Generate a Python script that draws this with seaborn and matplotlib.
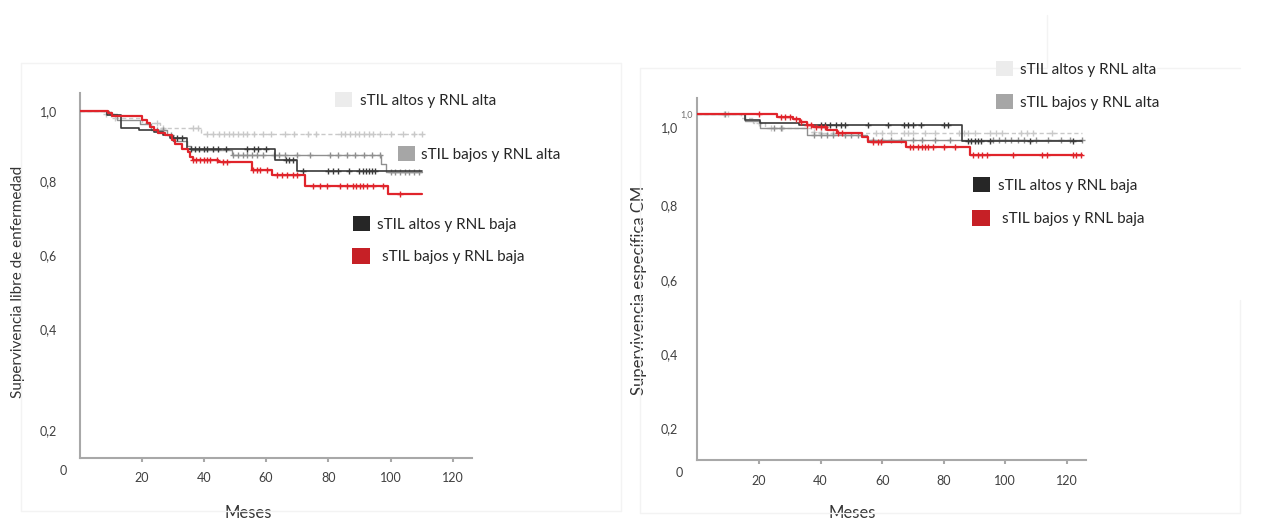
import numpy as np
import pandas as pd
import matplotlib
matplotlib.use("Agg")
import matplotlib.pyplot as plt
from matplotlib.patches import Patch
from matplotlib.lines import Line2D
from matplotlib.ticker import NullLocator
import seaborn as sns

# ------------------------------------------------------------------ data
groups = ["sTIL altos y RNL alta", "sTIL bajos y RNL alta",
          "sTIL altos y RNL baja", "sTIL bajos y RNL baja"]

# Left panel: Supervivencia libre de enfermedad (step times / survival / censored times)
dfs_la_t = [0, 8, 11, 20, 26, 39, 110]
dfs_la_s = [1.0, 0.99, 0.98, 0.965, 0.95, 0.934, 0.934]
dfs_la_c = [8.5, 10, 11.5, 25, 27, 36.5, 38, 41, 43, 45, 46.5, 48, 49.5, 51, 52.5, 54, 56,
            59, 61.5, 66, 69, 73.5, 76, 84, 85.5, 87, 88.5, 90, 91.5, 93, 94.5, 96.5,
            100, 104, 107.5, 110]

dfs_lba_t = [0, 9.5, 12, 19.5, 23, 28, 30, 34.5, 36, 49, 97, 98.5, 110]
dfs_lba_s = [1.0, 0.99, 0.975, 0.962, 0.945, 0.93, 0.915, 0.9, 0.887, 0.872, 0.848, 0.825, 0.825]
dfs_lba_c = [25, 27, 29.5, 49.5, 51, 52.5, 54, 55.5, 57, 59, 62.5, 64, 66, 70, 74, 80.5,
             83, 86, 88.5, 91.5, 94, 96.5, 100, 101.5, 103, 104.5, 106, 107.5, 109]

dfs_ab_t = [0, 9, 13.5, 19, 24, 27, 29, 34.5, 62.9, 69.8, 110]
dfs_ab_s = [1.0, 0.988, 0.952, 0.945, 0.94, 0.93, 0.922, 0.892, 0.858, 0.826, 0.826]
dfs_ab_c = [30, 31.5, 33, 36, 37, 38.5, 40, 41, 43, 44.5, 47, 54, 56, 57.5, 60, 66.5, 67.5,
            68.5, 72, 80, 81.5, 83, 86.5, 90, 91, 92, 93, 94, 95]

dfs_bb_t = [0, 9.3, 10.3, 20, 21.6, 22.7, 23.8, 25.4, 27.5, 29.7, 30.7, 33, 35, 35.5, 36.6,
            44.6, 55.4, 61.8, 72.5, 99.3, 110]
dfs_bb_s = [1.0, 0.995, 0.986, 0.973, 0.964, 0.954, 0.945, 0.938, 0.93, 0.916, 0.905, 0.892,
            0.882, 0.868, 0.858, 0.852, 0.831, 0.817, 0.783, 0.76, 0.76]
dfs_bb_c = [36.6, 37.5, 38.7, 40, 40.9, 42, 44.1, 46, 47.3, 55.9, 57, 58, 60.2, 63.4, 65,
            66.6, 68.8, 70, 75.2, 77.3, 79.5, 83.8, 85.9, 88, 89, 90.2, 91.3, 92.3, 94.5,
            97.7, 103.1]

# Right panel: Supervivencia específica CM
cm_la_t = [0, 14, 18, 22, 37, 40, 125]
cm_la_s = [1.0, 0.99, 0.975, 0.96, 0.95, 0.945, 0.945]
cm_la_c = [8.5, 10, 20, 24, 27.5, 38, 40, 44, 58, 60, 63, 67, 68.5, 70, 74, 77, 85, 86.5,
           88, 90, 95, 97, 99, 105, 107, 109, 115]

cm_lba_t = [0, 15.5, 20.3, 35.5, 55, 125]
cm_lba_s = [1.0, 0.98, 0.96, 0.94, 0.926, 0.926]
cm_lba_c = [9, 25, 27, 38, 40, 42, 44, 48, 50, 52, 57, 60, 63, 66, 70, 73, 77, 82, 96, 98,
            100, 102, 104, 106, 110, 114, 118, 121, 125]

cm_ab_t = [0, 15.5, 20.3, 33, 86, 125]
cm_ab_s = [1.0, 0.984, 0.975, 0.968, 0.924, 0.924]
cm_ab_c = [40, 41.5, 43, 45, 46.5, 48, 55.5, 62, 67, 68.5, 70, 72.5, 80, 81.5, 88, 89, 90,
           91, 92, 95, 108, 122]

cm_bb_t = [0, 25.7, 31.1, 33.3, 35.5, 37.6, 42, 45.2, 53.3, 55.5, 67.9, 88.5, 125]
cm_bb_s = [1.0, 0.993, 0.985, 0.979, 0.969, 0.962, 0.955, 0.945, 0.935, 0.921, 0.904, 0.882, 0.882]
cm_bb_c = [20, 27, 28.5, 30, 32, 33.5, 35.5, 37, 38.5, 40, 41.5, 45.5, 47, 57, 58.5, 59.5,
           69, 70, 71.5, 73, 74, 75, 76.5, 80, 83.5, 89.5, 91, 92.5, 94, 102.5, 112, 113.5,
           122, 123, 124.5]

xticks = [20, 40, 60, 80, 100, 120]
xtick_labels = ["20", "40", "60", "80", "100", "120"]
ytick_labels = ["1,0", "0,8", "0,6", "0,4", "0,2", "0"]

# ------------------------------------------------------------------ style
sns.set_theme(style="white")
plt.rcParams["font.family"] = ["Lato", "DejaVu Sans"]

W, H = 1270, 520
fig = plt.figure(figsize=(W / 100, H / 100), dpi=100)

line_col = ["#c9c9c9", "#8f8f8f", "#3a3a3a", "#e0242b"]
line_w = [1.0, 1.0, 1.2, 1.6]
line_ls = [(0, (3, 2)), "-", "-", "-"]
key_col = ["#ececec", "#a6a6a6", "#262626", "#c62026"]
spine_col = "#a8a8a8"
txt_col = "#333333"


def frame_line(x0, y0, x1, y1):
    fig.add_artist(Line2D([x0 / W, x1 / W], [1 - y0 / H, 1 - y1 / H],
                          transform=fig.transFigure, color="#f3f3f3", lw=1))


# faint panel frames of the composite picture
frame_line(21, 63, 621, 63); frame_line(21, 511, 621, 511)
frame_line(21, 63, 21, 511); frame_line(621, 63, 621, 511)
frame_line(640, 68, 1047, 68); frame_line(1157, 68, 1240, 68)
frame_line(1047, 15, 1047, 68); frame_line(640, 68, 640, 513)
frame_line(640, 513, 1240, 513); frame_line(1240, 300, 1240, 513)


def draw_panel(ax, series, xmax):
    for i, (t, s, c) in enumerate(series):
        d = pd.DataFrame({"time": t, "surv": s})
        sns.lineplot(data=d, x="time", y="surv", ax=ax, color=line_col[i],
                     linewidth=line_w[i], linestyle=line_ls[i], drawstyle="steps-post",
                     estimator=None, sort=False, zorder=2 + i)
        c = np.asarray(c, dtype=float)
        idx = np.searchsorted(np.asarray(t), c, side="right") - 1
        cs = pd.DataFrame({"time": c, "surv": np.asarray(s)[idx]})
        sns.scatterplot(data=cs, x="time", y="surv", ax=ax, marker="+", s=22,
                        color=line_col[i], linewidth=1.0, zorder=2.5 + i)
    ax.set_xlim(0, xmax)
    for side in ["top", "right"]:
        ax.spines[side].set_visible(False)
    ax.spines["bottom"].set_position(("data", 0))
    for side in ["left", "bottom"]:
        ax.spines[side].set_color(spine_col)
        ax.spines[side].set_linewidth(1.5)
    ax.set_xticks(xticks, xtick_labels)
    ax.xaxis.set_minor_locator(NullLocator())
    ax.set_facecolor("none")


def key(label, color, x_sq, y_c, x_txt, size_px=17):
    fs = 11
    fs_px = fs * 100 / 72
    hl = size_px / fs_px
    pad = (x_txt - x_sq - size_px) / fs_px
    fig.legend(handles=[Patch(facecolor=color, edgecolor="none")], labels=[label],
               loc="center left", bbox_to_anchor=(x_sq / W, 1 - y_c / H),
               bbox_transform=fig.transFigure, frameon=False, fontsize=fs,
               handlelength=hl, handleheight=hl, handletextpad=pad,
               borderpad=0, borderaxespad=0, labelcolor="#262626")


# ------------------------------------------------------------------ left panel
axL = fig.add_axes([79.5 / W, 0.0887, (472 - 79.5) / W, 0.7319])
draw_panel(axL, [(dfs_la_t, dfs_la_s, dfs_la_c), (dfs_lba_t, dfs_lba_s, dfs_lba_c),
                 (dfs_ab_t, dfs_ab_s, dfs_ab_c), (dfs_bb_t, dfs_bb_s, dfs_bb_c)], 126.2)
axL.set_ylim(-0.045, 1.051)
axL.spines["left"].set_bounds(0, 1.051)
axL.set_yticks([0, 0.2, 0.4, 0.6, 0.8, 1.0])
axL.tick_params(axis="y", which="major", labelleft=False, length=4.7, width=1.5,
                color=spine_col, direction="out")
axL.set_yticks([0.999, 0.798, 0.585, 0.372, 0.081, -0.034], ytick_labels, minor=True)
axL.tick_params(axis="y", which="minor", length=0, pad=16, labelsize=9,
                labelcolor="#404040")
axL.tick_params(axis="x", which="major", length=2.9, width=1.5, color=spine_col,
                pad=7, labelsize=9, labelcolor="#404040", direction="out", bottom=True)
mt = axL.yaxis.get_minor_ticks()
mt[-1].set_pad(9)
axL.set_ylabel("Supervivencia libre de enfermedad", fontsize=11, color=txt_col)
axL.yaxis.set_label_coords(-0.139, 0.504)
axL.set_xlabel("Meses", fontsize=12, color=txt_col)
axL.xaxis.set_label_coords(0.429, -0.082)

# ------------------------------------------------------------------ right panel
axR = fig.add_axes([697.4 / W, 0.0854, (1086 - 697.4) / W, 0.7254])
draw_panel(axR, [(cm_la_t, cm_la_s, cm_la_c), (cm_lba_t, cm_lba_s, cm_lba_c),
                 (cm_ab_t, cm_ab_s, cm_ab_c), (cm_bb_t, cm_bb_s, cm_bb_c)], 126.2)
axR.set_ylim(-0.045, 1.046)
axR.spines["left"].set_bounds(0, 1.046)
axR.set_yticks([0, 0.2, 0.4, 0.6, 0.8, 1.0], ["", "", "", "", "", "1,0"])
axR.tick_params(axis="y", which="major", length=2.9, width=1.5, color=spine_col,
                direction="out", pad=0.5, labelsize=6.5, labelcolor="#707070")
axR.set_yticks([0.964, 0.736, 0.521, 0.306, 0.093, -0.034], ytick_labels, minor=True)
axR.tick_params(axis="y", which="minor", length=0, pad=14, labelsize=9,
                labelcolor="#404040")
axR.tick_params(axis="x", which="major", length=2.9, width=1.5, color=spine_col,
                pad=8, labelsize=9, labelcolor="#404040", direction="out", bottom=True)
mt = axR.yaxis.get_minor_ticks()
mt[-1].set_pad(10.4)
axR.set_ylabel("Supervivencia específica CM", fontsize=12, color=txt_col)
axR.yaxis.set_label_coords(-0.13, 0.492)
axR.set_xlabel("Meses", fontsize=12, color=txt_col)
axR.xaxis.set_label_coords(0.398, -0.078)

# ------------------------------------------------------------------ keys
key(groups[0], key_col[0], 335, 100, 360)
key(groups[1], key_col[1], 398, 154, 421)
key(groups[2], key_col[2], 353, 224, 377)
key(groups[3], key_col[3], 352, 256, 382, 18)

key(groups[0], key_col[0], 996, 69, 1020)
key(groups[1], key_col[1], 996, 102, 1020)
key(groups[2], key_col[2], 973, 185, 998)
key(groups[3], key_col[3], 972, 218, 1002, 18)

fig.savefig("out.png", dpi=100)
